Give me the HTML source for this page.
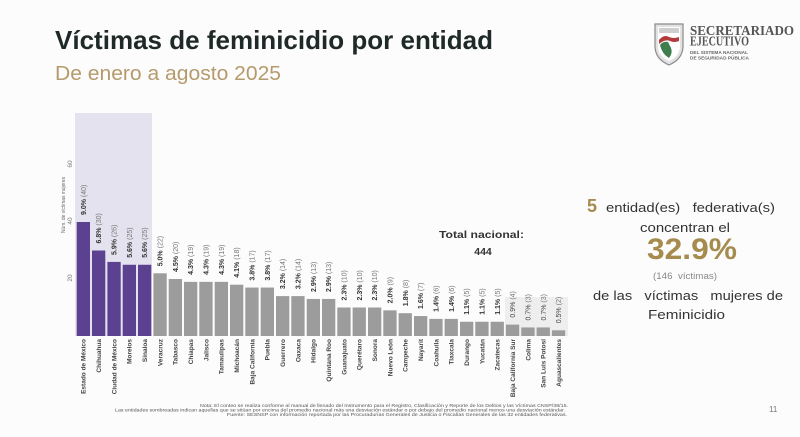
<!DOCTYPE html>
<html>
<head>
<meta charset="utf-8">
<style>
  html,body{margin:0;padding:0;background:#fcfcfc;}
  body{width:800px;height:437px;overflow:hidden;}
  svg{display:block;}
  text{font-family:"Liberation Sans",sans-serif;}
  .pre{white-space:pre;}
</style>
</head>
<body>
<svg width="800" height="437" viewBox="0 0 800 437" xmlns="http://www.w3.org/2000/svg">
  <rect x="0" y="0" width="800" height="437" fill="#fcfcfc"/>

  <!-- Title -->
  <text x="55" y="49" font-size="26" font-weight="bold" fill="#1f2a28" textLength="438" lengthAdjust="spacingAndGlyphs">Víctimas de feminicidio por entidad</text>
  <text x="55" y="80" font-size="20" fill="#b59a6c" textLength="226" lengthAdjust="spacingAndGlyphs">De enero a agosto 2025</text>

  <!-- Logo -->
  <g>
    <path d="M655,24 h28 v22 q0,13 -14,19 q-14,-6 -14,-19 z" fill="#e2e2e2" stroke="#8a8a8a" stroke-width="1.2"/>
    <path d="M658,27 h22 v19 q0,10 -11,15 q-11,-5 -11,-15 z" fill="#ffffff"/>
    <rect x="659" y="28" width="20" height="5" fill="#cfcfcf"/>
    <path d="M659,40 q5,-6 10,-3 q5,2 10,0 v4 q-5,2 -9,0 q-5,-2 -11,3 z" fill="#b23a3a"/>
    <path d="M660,45 q3,-4 8,-3 l3,6 q2,5 -2,10 q-7,-4 -9,-13 z" fill="#3f7f4f"/>
    <text x="690" y="35" font-family="Liberation Serif,serif" font-size="13.5" font-weight="bold" fill="#555" textLength="104" lengthAdjust="spacingAndGlyphs" style="font-family:'Liberation Serif',serif">SECRETARIADO</text>
    <text x="690" y="45.5" font-family="Liberation Serif,serif" font-size="13.5" font-weight="bold" fill="#555" textLength="59" lengthAdjust="spacingAndGlyphs" style="font-family:'Liberation Serif',serif">EJECUTIVO</text>
    <text x="690" y="54" font-size="4.6" font-weight="bold" fill="#666" textLength="58" lengthAdjust="spacingAndGlyphs">DEL SISTEMA NACIONAL</text>
    <text x="690" y="59.5" font-size="4.6" font-weight="bold" fill="#666" textLength="59" lengthAdjust="spacingAndGlyphs">DE SEGURIDAD PÚBLICA</text>
  </g>

  <!-- Shaded regions -->
  <rect x="75" y="113" width="77" height="223" fill="#e5e2ef"/>
  <rect x="505" y="297" width="63" height="39" fill="#eeeeee"/>

  <!-- Y axis -->
  <text transform="translate(72,164) rotate(-90)" font-size="6.5" fill="#777" text-anchor="middle">60</text>
  <text transform="translate(72,221) rotate(-90)" font-size="6.5" fill="#777" text-anchor="middle">40</text>
  <text transform="translate(72,278) rotate(-90)" font-size="6.5" fill="#777" text-anchor="middle">20</text>
  <text transform="translate(65,205) rotate(-90)" font-size="5.8" fill="#666" text-anchor="middle" textLength="56" lengthAdjust="spacingAndGlyphs">Núm. de víctimas mujeres</text>

  <!-- Bars -->
  <g fill="#5b4190">
    <rect x="76.7" y="222" width="13.3" height="114"/>
    <rect x="92.0" y="250.5" width="13.3" height="85.5"/>
    <rect x="107.4" y="261.9" width="13.3" height="74.1"/>
    <rect x="122.7" y="264.75" width="13.3" height="71.25"/>
    <rect x="138.0" y="264.75" width="13.3" height="71.25"/>
  </g>
  <g fill="#9c9c9c">
    <rect x="153.4" y="273.3" width="13.3" height="62.7"/>
    <rect x="168.7" y="279" width="13.3" height="57"/>
    <rect x="184.0" y="281.85" width="13.3" height="54.15"/>
    <rect x="199.3" y="281.85" width="13.3" height="54.15"/>
    <rect x="214.7" y="281.85" width="13.3" height="54.15"/>
    <rect x="230.0" y="284.7" width="13.3" height="51.3"/>
    <rect x="245.3" y="287.55" width="13.3" height="48.45"/>
    <rect x="260.7" y="287.55" width="13.3" height="48.45"/>
    <rect x="276.0" y="296.1" width="13.3" height="39.9"/>
    <rect x="291.3" y="296.1" width="13.3" height="39.9"/>
    <rect x="306.7" y="298.95" width="13.3" height="37.05"/>
    <rect x="322.0" y="298.95" width="13.3" height="37.05"/>
    <rect x="337.3" y="307.5" width="13.3" height="28.5"/>
    <rect x="352.6" y="307.5" width="13.3" height="28.5"/>
    <rect x="368.0" y="307.5" width="13.3" height="28.5"/>
    <rect x="383.3" y="310.35" width="13.3" height="25.65"/>
    <rect x="398.6" y="313.2" width="13.3" height="22.8"/>
    <rect x="414.0" y="316.05" width="13.3" height="19.95"/>
    <rect x="429.3" y="318.9" width="13.3" height="17.1"/>
    <rect x="444.6" y="318.9" width="13.3" height="17.1"/>
    <rect x="460.0" y="321.75" width="13.3" height="14.25"/>
    <rect x="475.3" y="321.75" width="13.3" height="14.25"/>
    <rect x="490.6" y="321.75" width="13.3" height="14.25"/>
    <rect x="505.9" y="324.6" width="13.3" height="11.4"/>
    <rect x="521.3" y="327.45" width="13.3" height="8.55"/>
    <rect x="536.6" y="327.45" width="13.3" height="8.55"/>
    <rect x="551.9" y="330.3" width="13.3" height="5.7"/>
  </g>

  <!-- Value labels -->
  <g font-size="7" fill="#333">
    <text transform="translate(85.9,215) rotate(-90)"><tspan font-weight="bold">9.0%</tspan><tspan fill="#777"> (40)</tspan></text>
    <text transform="translate(101.2,243.5) rotate(-90)"><tspan font-weight="bold">6.8%</tspan><tspan fill="#777"> (30)</tspan></text>
    <text transform="translate(116.6,255) rotate(-90)"><tspan font-weight="bold">5.9%</tspan><tspan fill="#777"> (26)</tspan></text>
    <text transform="translate(131.9,257.8) rotate(-90)"><tspan font-weight="bold">5.6%</tspan><tspan fill="#777"> (25)</tspan></text>
    <text transform="translate(147.2,257.8) rotate(-90)"><tspan font-weight="bold">5.6%</tspan><tspan fill="#777"> (25)</tspan></text>
    <text transform="translate(162.6,266.3) rotate(-90)"><tspan font-weight="bold">5.0%</tspan><tspan fill="#777"> (22)</tspan></text>
    <text transform="translate(177.9,272) rotate(-90)"><tspan font-weight="bold">4.5%</tspan><tspan fill="#777"> (20)</tspan></text>
    <text transform="translate(193.2,274.9) rotate(-90)"><tspan font-weight="bold">4.3%</tspan><tspan fill="#777"> (19)</tspan></text>
    <text transform="translate(208.5,274.9) rotate(-90)"><tspan font-weight="bold">4.3%</tspan><tspan fill="#777"> (19)</tspan></text>
    <text transform="translate(223.9,274.9) rotate(-90)"><tspan font-weight="bold">4.3%</tspan><tspan fill="#777"> (19)</tspan></text>
    <text transform="translate(239.2,277.7) rotate(-90)"><tspan font-weight="bold">4.1%</tspan><tspan fill="#777"> (18)</tspan></text>
    <text transform="translate(254.5,280.6) rotate(-90)"><tspan font-weight="bold">3.8%</tspan><tspan fill="#777"> (17)</tspan></text>
    <text transform="translate(269.9,280.6) rotate(-90)"><tspan font-weight="bold">3.8%</tspan><tspan fill="#777"> (17)</tspan></text>
    <text transform="translate(285.2,289.1) rotate(-90)"><tspan font-weight="bold">3.2%</tspan><tspan fill="#777"> (14)</tspan></text>
    <text transform="translate(300.5,289.1) rotate(-90)"><tspan font-weight="bold">3.2%</tspan><tspan fill="#777"> (14)</tspan></text>
    <text transform="translate(315.9,292) rotate(-90)"><tspan font-weight="bold">2.9%</tspan><tspan fill="#777"> (13)</tspan></text>
    <text transform="translate(331.2,292) rotate(-90)"><tspan font-weight="bold">2.9%</tspan><tspan fill="#777"> (13)</tspan></text>
    <text transform="translate(346.5,300.5) rotate(-90)"><tspan font-weight="bold">2.3%</tspan><tspan fill="#777"> (10)</tspan></text>
    <text transform="translate(361.8,300.5) rotate(-90)"><tspan font-weight="bold">2.3%</tspan><tspan fill="#777"> (10)</tspan></text>
    <text transform="translate(377.2,300.5) rotate(-90)"><tspan font-weight="bold">2.3%</tspan><tspan fill="#777"> (10)</tspan></text>
    <text transform="translate(392.5,303.4) rotate(-90)"><tspan font-weight="bold">2.0%</tspan><tspan fill="#777"> (9)</tspan></text>
    <text transform="translate(407.8,306.2) rotate(-90)"><tspan font-weight="bold">1.8%</tspan><tspan fill="#777"> (8)</tspan></text>
    <text transform="translate(423.2,309) rotate(-90)"><tspan font-weight="bold">1.6%</tspan><tspan fill="#777"> (7)</tspan></text>
    <text transform="translate(438.5,311.9) rotate(-90)"><tspan font-weight="bold">1.4%</tspan><tspan fill="#777"> (6)</tspan></text>
    <text transform="translate(453.8,311.9) rotate(-90)"><tspan font-weight="bold">1.4%</tspan><tspan fill="#777"> (6)</tspan></text>
    <text transform="translate(469.2,314.8) rotate(-90)"><tspan font-weight="bold">1.1%</tspan><tspan fill="#777"> (5)</tspan></text>
    <text transform="translate(484.5,314.8) rotate(-90)"><tspan font-weight="bold">1.1%</tspan><tspan fill="#777"> (5)</tspan></text>
    <text transform="translate(499.8,314.8) rotate(-90)"><tspan font-weight="bold">1.1%</tspan><tspan fill="#777"> (5)</tspan></text>
    <text transform="translate(515.1,317.6) rotate(-90)"><tspan fill="#444">0.9%</tspan><tspan fill="#777"> (4)</tspan></text>
    <text transform="translate(530.5,320.5) rotate(-90)"><tspan fill="#444">0.7%</tspan><tspan fill="#777"> (3)</tspan></text>
    <text transform="translate(545.8,320.5) rotate(-90)"><tspan fill="#444">0.7%</tspan><tspan fill="#777"> (3)</tspan></text>
    <text transform="translate(561.1,323.3) rotate(-90)"><tspan fill="#444">0.5%</tspan><tspan fill="#777"> (2)</tspan></text>
  </g>

  <!-- X labels -->
  <g font-size="6.5" font-weight="bold" fill="#444" text-anchor="end">
    <text transform="translate(85.6,339) rotate(-90)">Estado de México</text>
    <text transform="translate(101,339) rotate(-90)">Chihuahua</text>
    <text transform="translate(116.3,339) rotate(-90)">Ciudad de México</text>
    <text transform="translate(131.6,339) rotate(-90)">Morelos</text>
    <text transform="translate(147,339) rotate(-90)">Sinaloa</text>
    <text transform="translate(162.3,339) rotate(-90)">Veracruz</text>
    <text transform="translate(177.6,339) rotate(-90)">Tabasco</text>
    <text transform="translate(193,339) rotate(-90)">Chiapas</text>
    <text transform="translate(208.3,339) rotate(-90)">Jalisco</text>
    <text transform="translate(223.6,339) rotate(-90)">Tamaulipas</text>
    <text transform="translate(239,339) rotate(-90)">Michoacán</text>
    <text transform="translate(254.3,339) rotate(-90)">Baja California</text>
    <text transform="translate(269.6,339) rotate(-90)">Puebla</text>
    <text transform="translate(285,339) rotate(-90)">Guerrero</text>
    <text transform="translate(300.3,339) rotate(-90)">Oaxaca</text>
    <text transform="translate(315.6,339) rotate(-90)">Hidalgo</text>
    <text transform="translate(331,339) rotate(-90)">Quintana Roo</text>
    <text transform="translate(346.3,339) rotate(-90)">Guanajuato</text>
    <text transform="translate(361.6,339) rotate(-90)">Querétaro</text>
    <text transform="translate(377,339) rotate(-90)">Sonora</text>
    <text transform="translate(392.3,339) rotate(-90)">Nuevo León</text>
    <text transform="translate(407.6,339) rotate(-90)">Campeche</text>
    <text transform="translate(423,339) rotate(-90)">Nayarit</text>
    <text transform="translate(438.3,339) rotate(-90)">Coahuila</text>
    <text transform="translate(453.6,339) rotate(-90)">Tlaxcala</text>
    <text transform="translate(469,339) rotate(-90)">Durango</text>
    <text transform="translate(484.3,339) rotate(-90)">Yucatán</text>
    <text transform="translate(499.6,339) rotate(-90)">Zacatecas</text>
    <text transform="translate(514.9,339) rotate(-90)">Baja California Sur</text>
    <text transform="translate(530.3,339) rotate(-90)">Colima</text>
    <text transform="translate(545.6,339) rotate(-90)">San Luis Potosí</text>
    <text transform="translate(560.9,339) rotate(-90)">Aguascalientes</text>
  </g>

  <!-- Total nacional -->
  <text x="481.5" y="238" font-size="10.5" font-weight="bold" fill="#333" text-anchor="middle" textLength="85" lengthAdjust="spacingAndGlyphs">Total nacional:</text>
  <text x="483" y="255" font-size="10.5" font-weight="bold" fill="#333" text-anchor="middle">444</text>

  <!-- Right summary -->
  <text x="587" y="212" font-size="18" font-weight="bold" fill="#a68b4e">5</text>
  <text class="pre" x="606" y="212" font-size="13" fill="#333" textLength="169" lengthAdjust="spacingAndGlyphs">entidad(es)   federativa(s)</text>
  <text x="640" y="232" font-size="13" fill="#333" textLength="90" lengthAdjust="spacingAndGlyphs">concentran el</text>
  <text x="647" y="259" font-size="30" font-weight="bold" fill="#a68b4e" textLength="90" lengthAdjust="spacingAndGlyphs">32.9%</text>
  <text class="pre" x="653" y="279" font-size="9" fill="#888" textLength="64" lengthAdjust="spacingAndGlyphs">(146  víctimas)</text>
  <text class="pre" x="593" y="300" font-size="13" fill="#333" textLength="190" lengthAdjust="spacingAndGlyphs">de las   víctimas   mujeres de</text>
  <text x="648" y="319" font-size="13" fill="#333" textLength="77" lengthAdjust="spacingAndGlyphs">Feminicidio</text>

  <!-- Footnotes -->
  <g font-size="4.6" fill="#555" text-anchor="end">
    <text x="568" y="407" textLength="368" lengthAdjust="spacingAndGlyphs">Nota: El conteo se realiza conforme al manual de llenado del Instrumento para el Registro, Clasificación y Reporte de los Delitos y las Víctimas CNSP/38/15.</text>
    <text x="565" y="411.5" textLength="450" lengthAdjust="spacingAndGlyphs">Las entidades sombreadas indican aquellas que se sitúan por encima del promedio nacional más una desviación estándar o por debajo del promedio nacional menos una desviación estándar.</text>
    <text x="567" y="416" textLength="340" lengthAdjust="spacingAndGlyphs">Fuente: SESNSP con información reportada por las Procuradurías Generales de Justicia o Fiscalías Generales de las 32 entidades federativas.</text>
  </g>

  <!-- Page number -->
  <text x="769" y="412" font-size="8" fill="#777">11</text>
</svg>
</body>
</html>
